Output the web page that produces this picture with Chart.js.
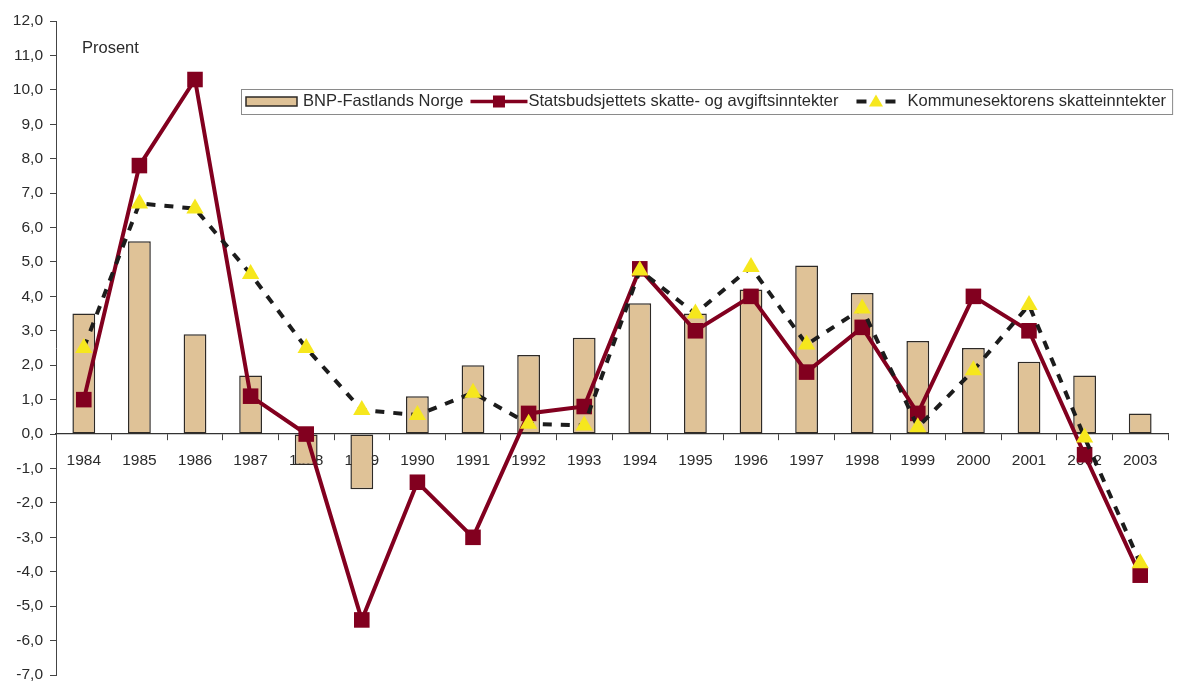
<!DOCTYPE html>
<html lang="no">
<head>
<meta charset="utf-8">
<script src="https://cdn.jsdelivr.net/npm/chart.js@4.4.1/dist/chart.umd.min.js"></script>
<style>
  html, body { margin: 0; padding: 0; background: #fff; overflow: hidden; }
  #wrap { width: 1179px; height: 681px; overflow: hidden; }
  #chart { display: block; }
</style>
</head>
<body>
<div id="wrap"><canvas id="chart" width="1179" height="686"></canvas></div>
<script>
// Årlig realvekst, prosent
const years = ['1984', '1985', '1986', '1987', '1988', '1989', '1990', '1991', '1992', '1993',
               '1994', '1995', '1996', '1997', '1998', '1999', '2000', '2001', '2002', '2003'];
const bnpFastland = [3.5, 5.6, 2.9, 1.7, -0.9, -1.6, 1.1, 2.0, 2.3, 2.8,
                     3.8, 3.5, 4.2, 4.9, 4.1, 2.7, 2.5, 2.1, 1.7, 0.6];
const statsbudsjett = [1.0, 7.8, 10.3, 1.1, 0.0, -5.4, -1.4, -3.0, 0.6, 0.8,
                       4.8, 3.0, 4.0, 1.8, 3.1, 0.6, 4.0, 3.0, -0.6, -4.1];
const kommunesektor = [2.5, 6.7, 6.55, 4.65, 2.5, 0.7, 0.55, 1.2, 0.3, 0.25,
                       4.75, 3.5, 4.85, 2.6, 3.65, 0.2, 1.85, 3.75, -0.1, -3.75];
const seriesNames = ['BNP-Fastlands Norge',
                     'Statsbudsjettets skatte- og avgiftsinntekter',
                     'Kommunesektorens skatteinntekter'];
const yMin = -7, yMax = 12;

const FONT_FAMILY = '"Liberation Sans", Arial, sans-serif';
const FONT_SIZE = 15.5;
const LEGEND_SIZE = 16.5;
const TEXT = '#2b2b2b';
const AXIS = '#444';
const TAN = '#dfc297';
const BAR_EDGE = '#2e2a26';
const MAROON = '#82001f';
const YELLOW = '#f6e71d';
const DASH = '#1c1c1c';

// aksene skal ikke reservere plass rundt plottet
function noPadding(scale) {
  scale.paddingTop = 0;
  scale.paddingBottom = 0;
  scale.paddingLeft = 0;
  scale.paddingRight = 0;
}

// "Prosent" over y-aksen + egen tegnforklaring i rute
const annotations = {
  id: 'annotations',
  afterDraw(chart) {
    const ctx = chart.ctx;
    ctx.save();
    ctx.font = LEGEND_SIZE + 'px ' + FONT_FAMILY;
    ctx.fillStyle = TEXT;
    ctx.textBaseline = 'middle';
    ctx.textAlign = 'left';
    ctx.fillText('Prosent', 82, 48);

    const bx = 241, by = 89, bh = 25;
    const my = by + bh / 2;
    let x = bx + 5;

    // stolpe
    ctx.fillStyle = TAN;
    ctx.strokeStyle = BAR_EDGE;
    ctx.lineWidth = 1.5;
    ctx.fillRect(x, my - 4.5, 51, 9);
    ctx.strokeRect(x, my - 4.5, 51, 9);
    x += 57;
    ctx.fillStyle = TEXT;
    ctx.fillText(seriesNames[0], x, my);
    x += ctx.measureText(seriesNames[0]).width + 7;

    // linje med firkant
    ctx.strokeStyle = MAROON;
    ctx.lineWidth = 3.5;
    ctx.beginPath();
    ctx.moveTo(x, my);
    ctx.lineTo(x + 57, my);
    ctx.stroke();
    ctx.fillStyle = MAROON;
    ctx.fillRect(x + 28.5 - 6, my - 6, 12, 12);
    x += 58;
    ctx.fillStyle = TEXT;
    ctx.fillText(seriesNames[1], x, my);
    x += ctx.measureText(seriesNames[1]).width + 18;

    // stiplet linje med trekant
    ctx.fillStyle = DASH;
    ctx.fillRect(x, my - 2, 10, 4);
    ctx.fillRect(x + 29, my - 2, 10, 4);
    ctx.fillStyle = YELLOW;
    ctx.beginPath();
    ctx.moveTo(x + 19.5, my - 7);
    ctx.lineTo(x + 26.5, my + 5);
    ctx.lineTo(x + 12.5, my + 5);
    ctx.closePath();
    ctx.fill();
    x += 51;
    ctx.fillStyle = TEXT;
    ctx.fillText(seriesNames[2], x, my);
    x += ctx.measureText(seriesNames[2]).width + 6;

    ctx.strokeStyle = '#8a8a8a';
    ctx.lineWidth = 1;
    ctx.strokeRect(bx + 0.5, by + 0.5, x - bx, bh);
    ctx.restore();
  }
};

const ctx = document.getElementById('chart').getContext('2d');
new Chart(ctx, {
  type: 'bar',
  data: {
    labels: years,
    datasets: [
      {
        label: seriesNames[0],
        data: bnpFastland,
        backgroundColor: TAN,
        borderColor: BAR_EDGE,
        borderWidth: 1.5,
        borderSkipped: false,
        categoryPercentage: 1,
        barPercentage: 0.41,
        order: 3
      },
      {
        type: 'line',
        label: seriesNames[1],
        data: statsbudsjett,
        borderColor: MAROON,
        borderWidth: 4,
        pointStyle: 'rect',
        pointRadius: 11,
        pointBackgroundColor: MAROON,
        pointBorderWidth: 0,
        tension: 0,
        order: 2
      },
      {
        type: 'line',
        label: seriesNames[2],
        data: kommunesektor,
        borderColor: DASH,
        borderWidth: 4,
        borderDash: [9, 9],
        pointStyle: 'triangle',
        pointRadius: 10,
        pointBackgroundColor: YELLOW,
        pointBorderWidth: 0,
        tension: 0,
        order: 1
      }
    ]
  },
  options: {
    responsive: false,
    devicePixelRatio: 1,
    animation: false,
    layout: { padding: { top: 21, bottom: 7, left: 0, right: 0 } },
    plugins: {
      legend: { display: false },
      tooltip: { enabled: false }
    },
    scales: {
      x: {
        position: { y: 0 },
        offset: true,
        afterFit(scale) {
          scale.height = 0;
          noPadding(scale);
        },
        grid: { drawOnChartArea: false, offset: true, tickLength: 6, color: AXIS },
        border: { color: '#333', width: 1.2 },
        ticks: {
          color: TEXT,
          padding: 6,
          maxRotation: 0,
          autoSkip: false,
          font: { family: FONT_FAMILY, size: FONT_SIZE, lineHeight: 1.9 }
        }
      },
      y: {
        min: yMin,
        max: yMax,
        afterFit(scale) {
          scale.width = 56;
          noPadding(scale);
        },
        grid: { drawOnChartArea: false, tickLength: 6, color: AXIS },
        border: { color: AXIS, width: 1 },
        ticks: {
          stepSize: 1,
          autoSkip: false,
          color: TEXT,
          padding: 7,
          font: { family: FONT_FAMILY, size: FONT_SIZE },
          callback: (v) => v.toFixed(1).replace('.', ',')
        }
      }
    }
  },
  plugins: [annotations]
});
</script>
</body>
</html>
